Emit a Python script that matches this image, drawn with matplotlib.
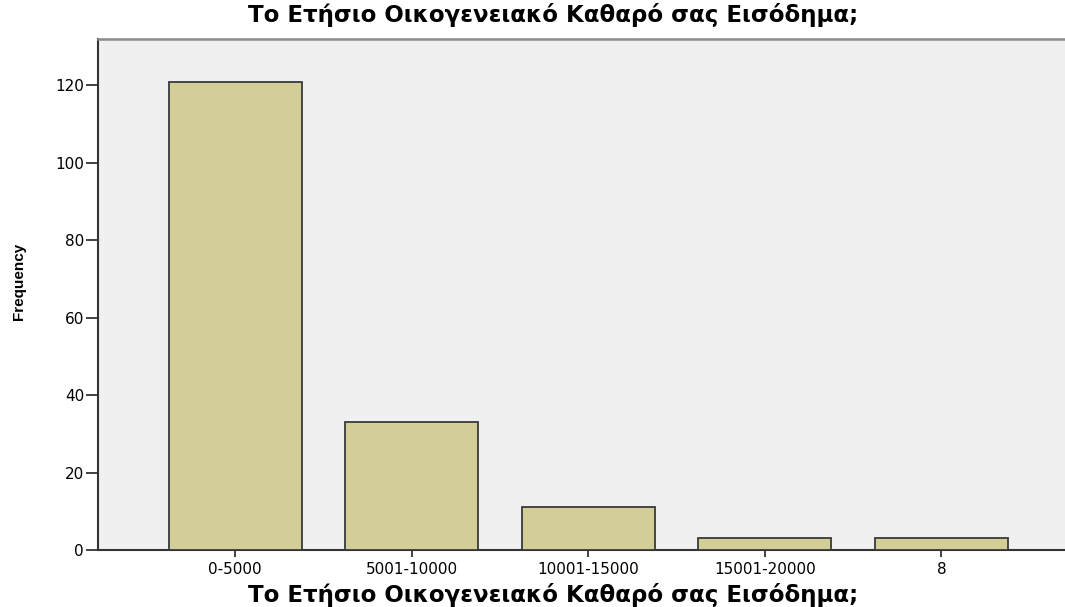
import matplotlib
matplotlib.use("Agg")
import matplotlib.pyplot as plt

# datos
categorias = ["0-5000", "5001-10000", "10001-15000", "15001-20000", "8"]
frecuencias = [121, 33, 11, 3, 3]
yticks = [0, 20, 40, 60, 80, 100, 120]
titulo = "Το Ετήσιο Οικογενειακό Καθαρό σας Εισόδημα;"

plt.rcParams['font.family'] = ['DejaVu Sans']

fig = plt.figure(figsize=(10.65, 6.07), dpi=100)
ax = fig.add_axes([98/1065, 1-550/607, 1-98/1065, (550-39)/607])
ax.set_facecolor("#f0f0f0")

x = list(range(len(categorias)))
ax.bar(x, frecuencias, width=0.753, color="#d3ce97", edgecolor="#3a3a3a", linewidth=1.3, zorder=3)

ax.set_xlim(-0.776, 4.70)
ax.set_ylim(0, 132)
ax.set_xticks(x)
ax.set_xticklabels(categorias, fontsize=11)
ax.set_yticks(yticks)
ax.set_yticklabels([str(v) for v in yticks], fontsize=11)
ax.tick_params(axis="y", direction="out", length=9, width=1.3, color="#333333", pad=1)
ax.tick_params(axis="x", direction="out", length=5, width=1.3, color="#333333", pad=4)

ax.spines["right"].set_visible(False)
ax.spines["top"].set_color("#8a8a8a")
ax.spines["top"].set_linewidth(1.8)
ax.spines["left"].set_color("#333333")
ax.spines["left"].set_linewidth(1.5)
ax.spines["bottom"].set_color("#333333")
ax.spines["bottom"].set_linewidth(1.5)

fig.text(553/1065, 1-15/607, titulo, ha="center", va="center", fontsize=16.5, fontweight="bold")
fig.text(553/1065, 1-595/607, titulo, ha="center", va="center", fontsize=16.5, fontweight="bold")
fig.text(19/1065, 1-281/607, "Frequency", ha="center", va="center", rotation=90,
         fontsize=11, fontweight="bold", family=['Liberation Sans'])

fig.savefig("out.png", dpi=100)
